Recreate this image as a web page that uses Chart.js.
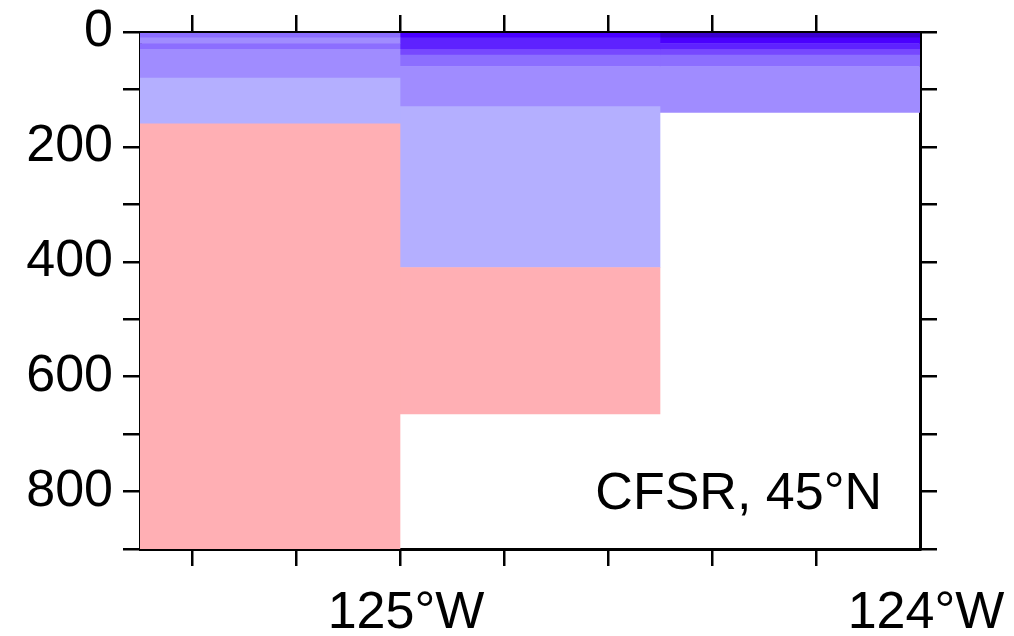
<!DOCTYPE html>
<html>
<head>
<meta charset="utf-8">
<title>CFSR section, 45°N</title>
<script src="https://cdn.jsdelivr.net/npm/chart.js@4.4.1/dist/chart.umd.min.js"></script>
<style>
  html, body { margin: 0; padding: 0; background: #ffffff; }
  #wrap { width: 1014px; height: 636px; }
</style>
</head>
<body>
<div id="wrap"><canvas id="section" width="1014" height="636"></canvas></div>
<script>
// Centre longitude of each 0.5° model column (degrees east)
const columnLon = [-125.25, -124.75, -124.25];

// Layer boundaries (m) and colour level of each cell, top to bottom
const col1Top    = [0, 10, 20, 30, 80, 160];
const col1Bottom = [10, 20, 30, 80, 160, 900];
const col1Level  = [3, 2, 3, 2, 1, 0];

const col2Top    = [0, 10, 30, 40, 60, 130, 410];
const col2Bottom = [10, 30, 40, 60, 130, 410, 665];
const col2Level  = [6, 5, 4, 3, 2, 1, 0];

const col3Top    = [0, 10, 20, 30, 40, 60];
const col3Bottom = [10, 20, 30, 40, 60, 140];
const col3Level  = [7, 6, 5, 4, 3, 2];

// Discrete colour levels, light red through deep violet
const levelColors = ['#ffafb4', '#b4afff', '#a08cff', '#8c6eff', '#7748ff', '#5e22ff', '#4a00ff', '#3a00cc'];

// Axis ranges and ticks
const lonRange = [-125.5, -124.0];
const lonEdges = [-125.5, -125.0, -124.5, -124.0];
const lonTicks = [-125.4, -125.2, -125.0, -124.8, -124.6, -124.4, -124.2, -124.0];
const lonLabelled = [-125.0, -124.0];
const depthRange = [0, 900];
const depthTicks = [0, 100, 200, 300, 400, 500, 600, 700, 800, 900];
const depthLabelled = [0, 200, 400, 600, 800];
const panelLabel = 'CFSR, 45°N';

const FONT = { family: '"Liberation Sans", Arial, sans-serif', size: 52 };

function columnDataset(lon, tops, bottoms, levels) {
  return {
    data: tops.map((t, i) => ({ x: lon, y: [t, bottoms[i]] })),
    backgroundColor: levels.map(l => levelColors[l]),
    borderWidth: 0,
    barPercentage: 1,
    categoryPercentage: 1,
    grouped: false,
    xAxisID: 'xCells',
    yAxisID: 'y'
  };
}

function setTicks(values) {
  return scale => { scale.ticks = values.map(v => ({ value: v })); };
}

// Fix an axis box to a given thickness and drop the label overhang padding
function fixSize(prop, size) {
  return scale => {
    scale[prop] = size;
    scale.paddingTop = scale.paddingBottom = scale.paddingLeft = scale.paddingRight = 0;
  };
}

function lonLabel(v) {
  if (!lonLabelled.some(l => Math.abs(l - v) < 1e-6)) return '';
  return Math.abs(Math.round(v)) + '°W';
}

const axisLine = { display: true, color: '#000', width: 3 };
const tickGrid = { drawOnChartArea: false, offset: false, tickLength: 17, lineWidth: 2.5, tickWidth: 2.5, tickColor: '#000' };

const panelText = {
  id: 'panelText',
  afterDraw(chart) {
    const { ctx, chartArea } = chart;
    ctx.save();
    ctx.font = FONT.size + 'px ' + FONT.family;
    ctx.fillStyle = '#000';
    ctx.textAlign = 'right';
    ctx.textBaseline = 'alphabetic';
    ctx.fillText(panelLabel, chartArea.right - 38, chartArea.bottom - 40);
    ctx.restore();
  }
};

Chart.defaults.color = '#000';
Chart.defaults.font.family = FONT.family;

new Chart(document.getElementById('section'), {
  type: 'bar',
  data: {
    datasets: [
      columnDataset(columnLon[0], col1Top, col1Bottom, col1Level),
      columnDataset(columnLon[1], col2Top, col2Bottom, col2Level),
      columnDataset(columnLon[2], col3Top, col3Bottom, col3Level)
    ]
  },
  options: {
    responsive: false,
    animation: false,
    devicePixelRatio: 1,
    layout: { padding: 0 },
    plugins: { legend: { display: false }, tooltip: { enabled: false } },
    scales: {
      xCells: {
        type: 'linear', display: false, offset: false,
        min: lonRange[0], max: lonRange[1],
        afterBuildTicks: setTicks(lonEdges),
        grid: { offset: false }
      },
      x: {
        type: 'linear', position: 'bottom', z: 1, offset: false,
        min: lonRange[0], max: lonRange[1],
        afterBuildTicks: setTicks(lonTicks),
        afterFit: fixSize('height', 87),
        border: axisLine,
        grid: Object.assign({}, tickGrid, {
          tickColor: c => (c.tick && Math.abs(c.tick.value - lonRange[1]) < 1e-6) ? 'rgba(0,0,0,0)' : '#000'
        }),
        ticks: {
          autoSkip: false, maxRotation: 0, padding: 16, labelOffset: 6,
          font: FONT, color: '#000',
          callback: v => lonLabel(v)
        }
      },
      xTop: {
        type: 'linear', position: 'top', z: 1, offset: false,
        min: lonRange[0], max: lonRange[1],
        afterBuildTicks: setTicks(lonTicks.slice(0, -1)),
        afterFit: fixSize('height', 32),
        border: axisLine,
        grid: tickGrid,
        ticks: { display: false }
      },
      y: {
        type: 'linear', position: 'left', reverse: true, z: 1,
        min: depthRange[0], max: depthRange[1],
        afterBuildTicks: setTicks(depthTicks),
        afterFit: fixSize('width', 140),
        border: axisLine,
        grid: tickGrid,
        ticks: {
          autoSkip: false, padding: 10, font: FONT, color: '#000',
          callback: v => depthLabelled.includes(v) ? String(v) : ''
        }
      },
      yRight: {
        type: 'linear', position: 'right', reverse: true, z: 1,
        min: depthRange[0], max: depthRange[1],
        afterBuildTicks: setTicks(depthTicks),
        afterFit: fixSize('width', 94),
        border: axisLine,
        grid: tickGrid,
        ticks: { display: false }
      }
    }
  },
  plugins: [panelText]
});
</script>
</body>
</html>
